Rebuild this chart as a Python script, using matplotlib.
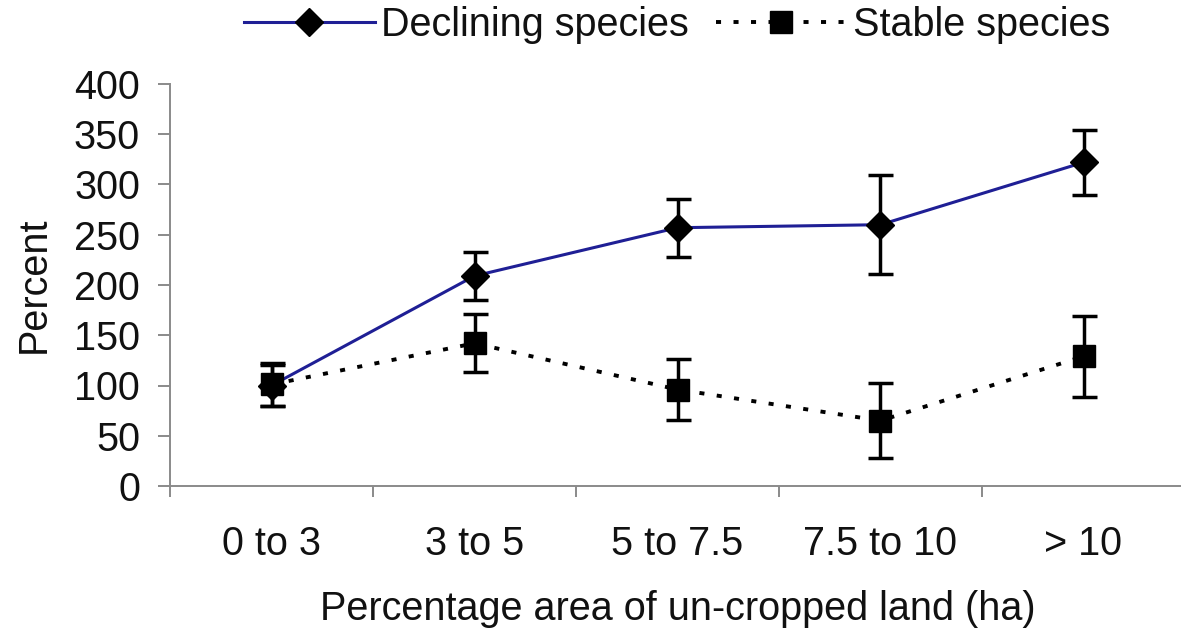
import matplotlib
matplotlib.use("Agg")
import matplotlib.pyplot as plt
from matplotlib.lines import Line2D
import numpy as np

categories = ["0 to 3", "3 to 5", "5 to 7.5", "7.5 to 10", "> 10"]
declining = [100, 209, 257, 260, 322]
declining_err = [20, 24, 29, 49, 32]
stable = [101, 142, 96, 65, 129]
stable_err = [21, 29, 30, 37, 40]
yticks = [0, 50, 100, 150, 200, 250, 300, 350, 400]

plt.rcParams['font.family'] = ['Liberation Sans', 'DejaVu Sans']
FS = 28.5
TXT = '#111111'
BLUE = '#1f1f95'
DOT = (0, (1.3, 3.2))

W, H = 1181, 633
fig = plt.figure(figsize=(W / 100, H / 100), dpi=100)
ax = fig.add_axes([170 / W, (H - 486) / H, 1015 / W, 402 / H])

x = np.arange(len(categories))
ax.errorbar(x, declining, yerr=declining_err, color=BLUE, ls='-', lw=2.2,
            marker='D', ms=14, mfc='black', mec='black', ecolor='black',
            elinewidth=2.5, capsize=9, capthick=2.5, zorder=3)
ax.errorbar(x, stable, yerr=stable_err, color='black', ls=DOT, lw=2.8,
            marker='s', ms=16.5, mfc='black', mec='black', ecolor='black',
            elinewidth=2.5, capsize=9, capthick=2.5, zorder=4)

ax.set_xlim(-0.5, len(categories) - 0.5)
ax.set_ylim(0, 400)
ax.set_yticks(yticks)
ax.set_xticks(x)
ax.set_xticklabels(categories)
ax.set_xticks(np.arange(len(categories) + 1) - 0.5, minor=True)

for s in ['top', 'right']:
    ax.spines[s].set_visible(False)
for s in ['left', 'bottom']:
    ax.spines[s].set_color('#8a8a8a')
    ax.spines[s].set_linewidth(1.4)

ax.tick_params(axis='y', which='major', length=8.6, width=1.4, color='#8a8a8a',
               labelsize=FS, pad=13, labelcolor=TXT)
ax.tick_params(axis='x', which='major', length=0, labelsize=FS, pad=28, labelcolor=TXT)
ax.tick_params(axis='x', which='minor', length=8, width=1.4, color='#8a8a8a')

ax.set_ylabel('Percent', fontsize=FS, color=TXT)
ax.yaxis.label.set_va('center')
ax.yaxis.set_label_coords(-0.134, 0.5)
ax.set_xlabel('Percentage area of un-cropped land (ha)', fontsize=FS, color=TXT)
ax.xaxis.label.set_va('center')
ax.xaxis.set_label_coords(0.5, -0.307)

handles = [
    Line2D([], [], color=BLUE, ls='-', lw=2.2, marker='D', ms=14, mfc='black', mec='black'),
    Line2D([], [], color='black', ls=DOT, lw=2.8, marker='s', ms=16.5, mfc='black', mec='black'),
]
leg = fig.legend(handles, ['Declining species', 'Stable species'], loc='center',
                 bbox_to_anchor=(677 / W, 1 - 25 / H),
                 ncol=2, frameon=False, fontsize=FS, handlelength=3.3,
                 handletextpad=0.15, columnspacing=0.7, borderaxespad=0)
for t in leg.get_texts():
    t.set_color(TXT)

fig.savefig('out.png', dpi=100)
